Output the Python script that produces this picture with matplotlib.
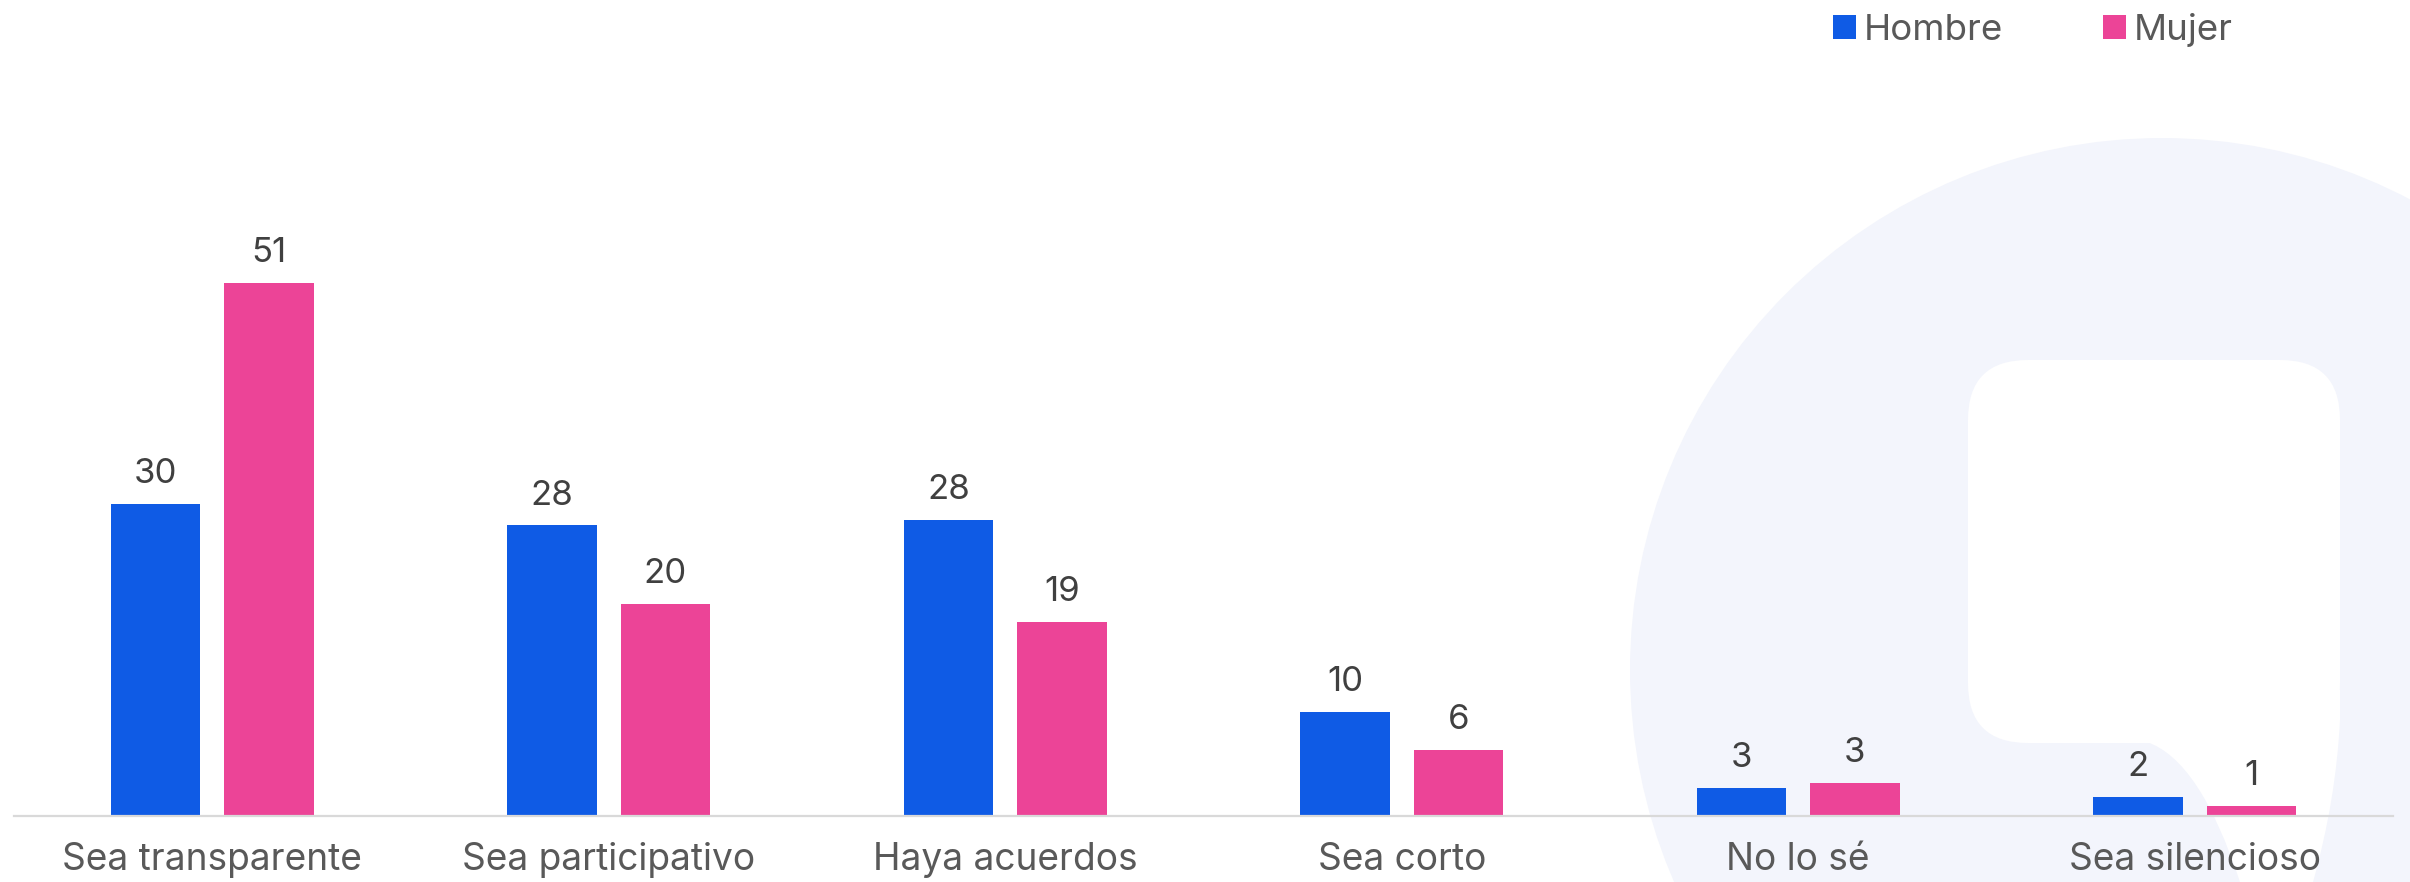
import matplotlib
matplotlib.use("Agg")
import matplotlib.pyplot as plt
import numpy as np
from matplotlib.patches import Circle, FancyBboxPatch, Patch, PathPatch
from matplotlib.path import Path

categories = ["Sea transparente", "Sea participativo", "Haya acuerdos",
              "Sea corto", "No lo sé", "Sea silencioso"]
hombre = [29.9, 27.8, 28.3, 10.0, 2.7, 1.8]
mujer = [51.0, 20.3, 18.6, 6.3, 3.2, 1.0]
series_names = ["Hombre", "Mujer"]
colors = ["#0F5BE5", "#EC4497"]

plt.rcParams['font.family'] = ['Inter', 'DejaVu Sans']

W, H = 2410, 882
fig = plt.figure(figsize=(W / 100, H / 100), dpi=100)

# background watermark (decorative)
bg = fig.add_axes([0, 0, 1, 1], zorder=0)
bg.set_xlim(0, W)
bg.set_ylim(H, 0)
bg.axis("off")
bg.add_patch(Circle((2162, 670), 532, facecolor="#F3F5FC", edgecolor="none"))
bg.add_patch(FancyBboxPatch((1968 + 60, 360 + 60), 372 - 120, 383 - 120,
                            boxstyle="round,pad=60", facecolor="white",
                            edgecolor="none"))
tail = Path([(2147, 690), (2147, 742), (2200, 760), (2240, 882),
             (2313, 882), (2336, 800), (2340, 720), (2340, 690), (2147, 690)],
            [Path.MOVETO, Path.LINETO, Path.CURVE3, Path.CURVE3,
             Path.LINETO, Path.CURVE3, Path.CURVE3, Path.LINETO, Path.CLOSEPOLY])
bg.add_patch(PathPatch(tail, facecolor="white", edgecolor="none"))

ax = fig.add_axes([14 / W, 66 / H, 2379 / W, 60 * 10.45 / H], zorder=1)
ax.patch.set_alpha(0)
x = np.arange(len(categories))
bw = 0.225
off = 0.143
for vals, name, c, o in zip([hombre, mujer], series_names, colors, [-off, off]):
    bars = ax.bar(x + o, vals, width=bw, color=c, label=name, zorder=2)
    for b, v in zip(bars, vals):
        ax.annotate(f"{v:.0f}", (b.get_x() + b.get_width() / 2, b.get_height()),
                    xytext=(0, 10), textcoords="offset points", ha="center",
                    va="bottom", fontsize=25, color="#404040")

ax.set_xlim(-0.5, len(categories) - 0.5)
ax.set_ylim(0, 60)
ax.set_xticks(x)
ax.set_xticklabels(categories, fontsize=26.7, color="#595959")
ax.tick_params(axis="x", length=0, pad=19)
ax.set_yticks([])
for s in ["top", "right", "left"]:
    ax.spines[s].set_visible(False)
ax.spines["bottom"].set_color("#D9D9D9")
ax.spines["bottom"].set_linewidth(1.6)

handles = [Patch(facecolor=c, edgecolor="none") for c in colors]
leg = fig.legend(handles, series_names, loc="upper left",
                 bbox_to_anchor=(1800 / W, 1 + 20 / H), ncol=2, frameon=False,
                 fontsize=26.4, handlelength=0.62, handleheight=0.62,
                 handletextpad=0.22, columnspacing=2.72, labelcolor="#595959")

fig.savefig("out.png", dpi=100)
